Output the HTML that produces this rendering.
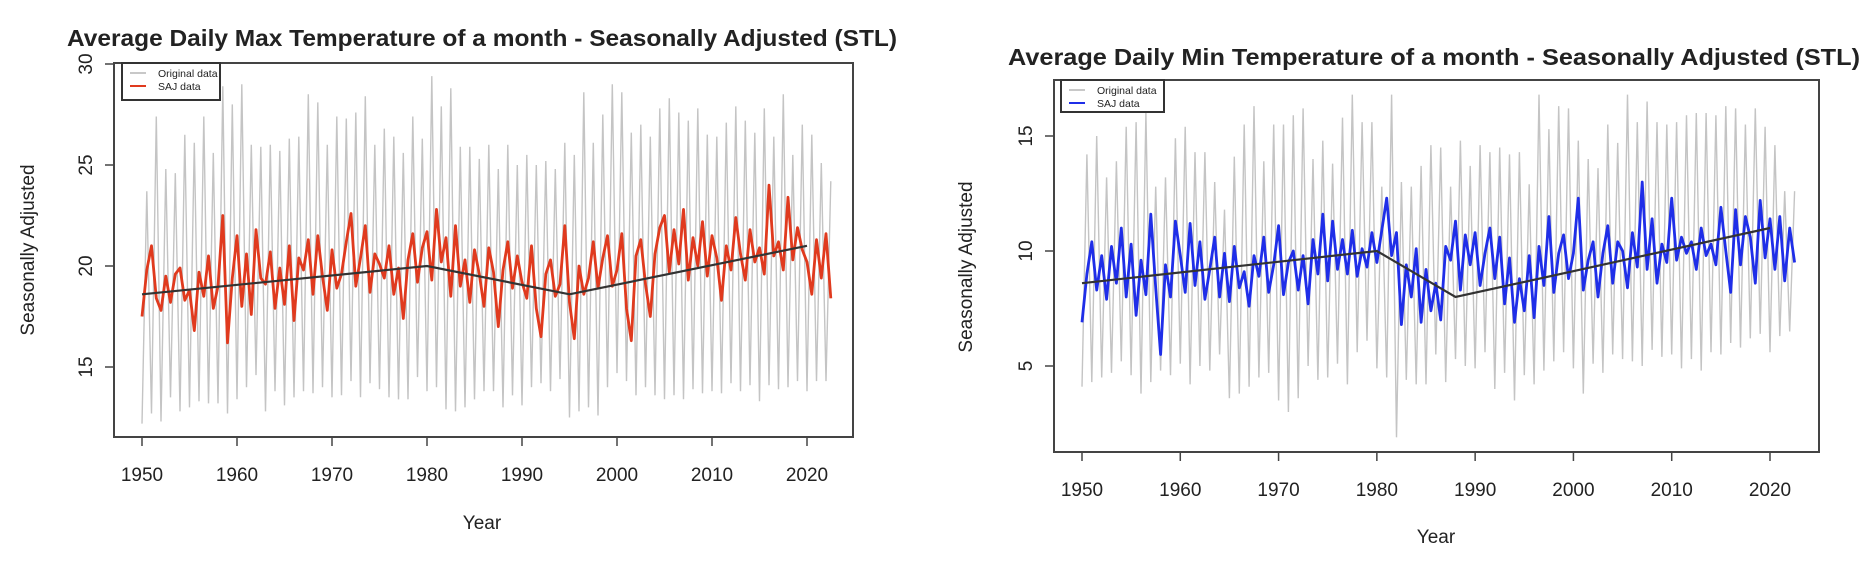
<!DOCTYPE html>
<html><head><meta charset="utf-8"><style>
html,body{margin:0;padding:0;background:#fff;width:1876px;height:570px;overflow:hidden}
svg{display:block}
text{font-family:"Liberation Sans",sans-serif;fill:#222}
</style></head><body>
<svg id="s" width="1876" height="570" xmlns="http://www.w3.org/2000/svg"></svg>
<script>
// ---- Left chart data (Max temperature) ----
const years = [1950,1960,1970,1980,1990,2000,2010,2020];
const maxPeaks = [23.7,27.4,24.8,24.6,26.5,26.1,27.4,25.6,28.9,28.0,29.0,26.0,25.9,26.0,25.7,26.3,26.4,28.5,28.1,26.0,27.4,27.3,27.6,28.4,26.0,26.8,26.4,25.6,27.4,26.3,29.4,27.9,28.8,25.9,25.9,25.3,26.0,24.8,26.0,25.0,25.5,25.0,25.2,24.8,26.1,25.5,28.6,26.1,27.5,29.0,28.6,26.6,27.0,26.4,27.8,28.3,27.6,27.2,27.8,26.5,26.4,27.1,27.9,27.2,26.6,27.8,26.4,28.5,25.5,27.0,26.5,25.1,24.2];
const maxTroughs = [12.2,12.7,12.3,13.5,12.8,13.0,13.3,13.2,13.2,12.7,13.4,14.0,14.6,12.8,13.8,13.1,13.5,13.8,13.7,14.0,13.5,13.6,14.3,13.5,14.2,13.9,13.5,13.4,13.4,14.5,13.8,14.0,12.9,12.8,13.0,13.4,13.8,13.8,13.0,13.6,13.1,14.0,14.2,13.8,14.4,12.5,12.8,13.0,12.6,14.0,14.7,14.3,13.6,14.0,13.6,13.4,13.6,13.4,13.9,13.7,13.8,13.7,14.2,13.8,14.1,13.3,14.1,13.9,14.0,14.3,13.8,14.3,14.3];
const maxSaj = [17.5,19.8,21.0,18.4,17.8,19.5,18.2,19.6,19.9,18.3,18.8,16.8,19.7,18.5,20.5,17.9,19.0,22.5,16.2,19.4,
21.5,18.0,20.6,17.6,21.8,19.4,19.1,20.7,17.9,19.9,18.1,21.0,17.3,20.4,19.8,21.3,18.6,21.5,19.5,17.8,
20.8,18.9,19.6,21.2,22.6,19.0,20.4,22.0,18.7,20.6,20.1,19.4,21.0,18.6,19.9,17.4,20.3,21.6,19.2,20.9,
21.7,19.3,22.8,20.2,21.4,18.5,22.0,19.0,20.3,18.2,20.8,19.6,18.0,20.9,19.7,17.0,19.8,21.2,18.9,20.5,
19.2,18.4,21.0,17.9,16.5,19.6,20.3,18.5,19.1,22.0,18.2,16.4,20.0,18.6,19.4,21.2,18.9,20.4,21.5,19.0,
19.8,21.6,17.9,16.3,20.5,21.3,19.1,17.5,20.6,21.9,22.5,19.7,21.8,20.1,22.8,19.3,21.4,20.0,22.2,19.5,
21.5,20.4,18.3,21.0,19.8,22.4,20.6,19.3,21.8,20.2,20.9,19.6,24.0,20.5,21.2,19.8,23.4,20.3,21.9,20.8,
20.2,18.6,21.3,19.4,21.6,18.4];
const maxTrendX = [1950,1980,1995,2020];
const maxTrendY = [18.6,20.0,18.6,21.0];
const maxTicks = [15,20,25,30];
// ---- Right chart data (Min temperature) ----
const minPeaks = [14.2,15.0,13.2,13.9,15.4,15.6,16.0,12.8,13.2,14.9,15.4,14.3,14.3,13.0,11.8,14.1,15.5,16.3,13.9,15.5,15.5,15.9,16.2,14.0,14.8,13.8,15.8,16.8,15.6,15.6,12.8,16.8,13.0,12.8,13.7,14.6,14.5,12.8,14.8,13.7,14.6,14.3,14.5,14.2,14.3,12.9,16.8,15.3,16.3,16.2,14.8,14.0,13.6,15.5,14.7,16.8,15.6,16.5,15.6,15.5,15.6,15.9,16.0,16.0,15.9,16.3,16.2,15.5,16.2,15.4,14.6,12.6,12.6];
const minTroughs = [4.1,4.3,4.5,4.7,5.2,4.6,3.8,4.3,4.8,4.6,5.1,4.2,5.0,4.8,5.5,3.6,3.8,4.1,4.5,4.7,3.5,3.0,3.6,5.0,4.4,4.5,5.1,4.2,5.6,6.1,4.9,4.5,1.9,4.4,4.2,4.2,5.5,4.3,5.3,5.0,4.9,5.6,4.0,4.7,3.5,4.6,4.2,4.8,5.2,5.6,4.9,3.8,5.1,4.7,5.5,5.3,5.2,5.0,5.7,5.4,5.5,4.9,5.3,4.8,5.6,5.5,6.0,5.8,6.2,6.4,5.6,6.3,6.5];
const minSaj = [6.9,9.0,10.4,8.3,9.8,7.9,10.2,8.6,11.0,8.0,10.3,7.2,9.6,8.1,11.6,8.4,5.5,9.4,8.0,11.3,
9.8,8.2,11.2,8.5,10.4,7.9,9.2,10.6,8.0,9.9,7.8,10.2,8.4,9.1,7.6,9.8,8.9,10.6,8.2,9.4,
11.1,8.1,9.5,10.0,8.3,9.8,7.7,10.5,9.0,11.6,8.7,11.3,9.2,10.5,9.0,10.9,8.9,10.1,9.3,10.8,
9.5,10.9,12.3,9.8,10.8,6.8,9.4,8.0,10.1,6.9,9.2,7.4,8.6,7.0,10.2,9.6,11.3,8.3,10.7,9.4,
10.8,8.5,9.9,11.0,8.8,10.6,7.7,9.7,6.9,8.8,7.4,9.8,7.1,10.2,8.5,11.5,8.2,9.9,10.7,8.8,
9.9,12.3,8.3,9.6,10.4,8.0,9.9,11.1,8.6,10.4,10.0,8.4,10.8,9.3,13.0,9.2,11.4,8.6,10.3,9.5,
12.3,9.6,10.6,9.9,10.4,9.2,11.0,9.8,10.3,9.4,11.9,10.0,8.2,11.8,9.4,11.5,10.6,8.6,12.2,9.7,
11.4,9.2,11.5,8.7,11.0,9.5];
const minTrendX = [1950,1980,1988,2020];
const minTrendY = [8.6,10.0,8.0,11.0];
const minTicks = [5,10,15];

const NS="http://www.w3.org/2000/svg";
const svg=document.getElementById('s');
function mk(tag,attrs,parent,txt){const e=document.createElementNS(NS,tag);for(const k in attrs)e.setAttribute(k,attrs[k]);if(txt!=null)e.textContent=txt;(parent||svg).appendChild(e);return e;}

function chart(cfg){
  const g=mk('g',{});
  
  
  const X=y=>cfg.x0+(y-1950)*(cfg.x1-cfg.x0)/70;
  const Y=v=>cfg.yRef+(cfg.vRef-v)*cfg.pxPer;
  const t=mk('text',{x:cfg.tx,y:cfg.ty,'font-size':23,'font-weight':'bold',textLength:cfg.tw,lengthAdjust:'spacingAndGlyphs',fill:'#111'},g,cfg.title);
  
  
  let d='';
  const n=Math.min(cfg.peaks.length,cfg.troughs.length);
  for(let i=0;i<n;i++){
    d+=(i?'L':'M')+X(1950+i).toFixed(1)+' '+Y(cfg.troughs[i]).toFixed(1);
    d+='L'+X(1950+i+0.5).toFixed(1)+' '+Y(cfg.peaks[i]).toFixed(1);
  }
  const o=mk('path',{d:d,fill:'none',stroke:'#c4c4c4','stroke-width':1.4},g);
  
  
  let d2='';
  cfg.saj.forEach((v,i)=>{d2+=(i?'L':'M')+X(1950+i*0.5).toFixed(1)+' '+Y(v).toFixed(1);});
  const s=mk('path',{d:d2,fill:'none',stroke:cfg.color,'stroke-width':2.8,'stroke-linejoin':'round'},g);
  
  
  let d3='';
  cfg.trendX.forEach((x,i)=>{d3+=(i?'L':'M')+X(x).toFixed(1)+' '+Y(cfg.trendY[i]).toFixed(1);});
  const tr=mk('path',{d:d3,fill:'none',stroke:'#333','stroke-width':2.2},g);
  
  
  const b=mk('rect',{x:cfg.bx0,y:cfg.by0,width:cfg.bx1-cfg.bx0,height:cfg.by1-cfg.by0,fill:'none',stroke:'#444','stroke-width':2},g);
  
  
  const xa=mk('g',{},g);
  
  
  mk('line',{x1:X(1950),x2:X(2020),y1:cfg.by1,y2:cfg.by1,stroke:'#444','stroke-width':1.5},xa);
  years.forEach(yv=>{
    mk('line',{x1:X(yv),x2:X(yv),y1:cfg.by1,y2:cfg.by1+9,stroke:'#444','stroke-width':1.5},xa);
    const l=mk('text',{x:X(yv),y:cfg.by1+44,'font-size':19,'text-anchor':'middle'},xa,String(yv));
    
    
  });
  const ya=mk('g',{},g);
  
  
  mk('line',{x1:cfg.bx0,x2:cfg.bx0,y1:Y(cfg.ticks[0]),y2:Y(cfg.ticks[cfg.ticks.length-1]),stroke:'#444','stroke-width':1.5},ya);
  cfg.ticks.forEach(v=>{
    mk('line',{x1:cfg.bx0-9,x2:cfg.bx0,y1:Y(v),y2:Y(v),stroke:'#444','stroke-width':1.5},ya);
    const l=mk('text',{x:0,y:0,'font-size':19,'text-anchor':'middle',transform:`translate(${cfg.bx0-22},${Y(v)}) rotate(-90)`},ya,String(v));
    
    
  });
  const xl=mk('text',{x:cfg.xlx,y:cfg.xly,'font-size':19,'text-anchor':'middle'},g,'Year');
  
  
  const yl=mk('text',{x:0,y:0,'font-size':19,'text-anchor':'middle',transform:`translate(${cfg.ylx},${cfg.yly}) rotate(-90)`},g,'Seasonally Adjusted');
  
  
  const lg=mk('g',{},g);
  
  
  mk('rect',{x:cfg.lx,y:cfg.ly,width:cfg.lw,height:cfg.lh,fill:'#fff',stroke:'#333','stroke-width':2},lg);
  mk('line',{x1:cfg.lx+8,x2:cfg.lx+24,y1:cfg.ly+10,y2:cfg.ly+10,stroke:'#c8c8c8','stroke-width':2},lg);
  mk('line',{x1:cfg.lx+8,x2:cfg.lx+24,y1:cfg.ly+23,y2:cfg.ly+23,stroke:cfg.color,'stroke-width':2},lg);
  const e1=mk('text',{x:cfg.lx+36,y:cfg.ly+14,'font-size':10.5,fill:'#555'},lg,'Original data');
  
  
  const e2=mk('text',{x:cfg.lx+36,y:cfg.ly+27,'font-size':10.5,fill:'#555'},lg,'SAJ data');
  
  
}

chart({name:'max-temperature-chart',title:'Average Daily Max Temperature of a month - Seasonally Adjusted (STL)',
  tx:67,ty:46,tw:830,x0:142,x1:807,yRef:266,vRef:20,pxPer:20.2,
  bx0:114,bx1:853,by0:63,by1:437,ticks:maxTicks,peaks:maxPeaks,troughs:maxTroughs,saj:maxSaj,
  trendX:maxTrendX,trendY:maxTrendY,color:'#e03a1e',xlx:482,xly:529,ylx:34,yly:250,
  lx:122,ly:63,lw:98,lh:37});
chart({name:'min-temperature-chart',title:'Average Daily Min Temperature of a month - Seasonally Adjusted (STL)',
  tx:1008,ty:65,tw:852,x0:1082,x1:1770,yRef:251,vRef:10,pxPer:23.0,
  bx0:1054,bx1:1819,by0:80,by1:452,ticks:minTicks,peaks:minPeaks,troughs:minTroughs,saj:minSaj,
  trendX:minTrendX,trendY:minTrendY,color:'#1f2ee8',xlx:1436,xly:543,ylx:972,yly:267,
  lx:1061,ly:80,lw:103,lh:32});
</script>
</body></html>
